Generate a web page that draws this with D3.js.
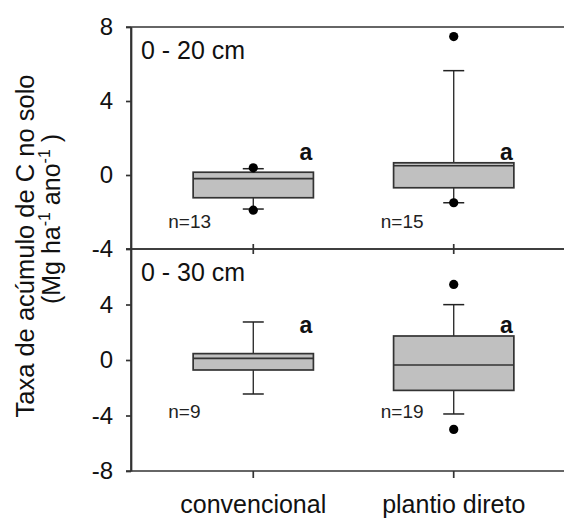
<!DOCTYPE html>
<html>
<head>
<meta charset="utf-8">
<script src="https://cdnjs.cloudflare.com/ajax/libs/d3/7.8.5/d3.min.js"></script>
<style>
  body { margin: 0; background: #fff; }
  svg text { font-family: "Liberation Sans", Arial, sans-serif; fill: #111; }
  .axis path, .axis line, .frame { stroke: #333; stroke-width: 1.7; fill: none; }
</style>
</head>
<body>
<svg id="chart" width="564" height="519"></svg>
<script>
// categories and depth panels
var categories = ['convencional', 'plantio direto'];
var depths = ['0 - 20 cm', '0 - 30 cm'];

// 0 - 20 cm
var q1_20 = [-1.23, -0.69];
var median_20 = [-0.2, 0.5];
var q3_20 = [0.15, 0.66];
var whiskLo_20 = [-1.84, -1.5];
var whiskHi_20 = [0.34, 5.64];
var outliers_20 = [[-1.9, 0.39], [-1.5, 7.48]];
var n_20 = [13, 15];
var letters_20 = ['a', 'a'];

// 0 - 30 cm
var q1_30 = [-0.72, -2.19];
var median_30 = [0.12, -0.36];
var q3_30 = [0.46, 1.73];
var whiskLo_30 = [-2.45, -3.89];
var whiskHi_30 = [2.74, 3.99];
var outliers_30 = [[], [5.45, -5.0]];
var n_30 = [9, 19];
var letters_30 = ['a', 'a'];

// tick labels
var ticks_20 = [-4, 0, 4, 8];
var ticks_30 = [-8, -4, 0, 4];

var svg = d3.select('#chart'),
    W = 564,
    left = 131;

var x = d3.scaleBand()
    .domain(categories)
    .range([left, 576])
    .paddingInner(0.4)
    .paddingOuter(0.31);

var panels = [
  { label: depths[0], domain: [-4, 8], range: [249, 27], ticks: ticks_20,
    q1: q1_20, med: median_20, q3: q3_20, lo: whiskLo_20, hi: whiskHi_20,
    out: outliers_20, n: n_20, letters: letters_20, nAt: -2.86, letterAt: 0.81,
    nShift: [-85, -73], bottomTicks: 'cross' },
  { label: depths[1], domain: [-8, 8], range: [471, 249], ticks: ticks_30,
    q1: q1_30, med: median_30, q3: q3_30, lo: whiskLo_30, hi: whiskHi_30,
    out: outliers_30, n: n_30, letters: letters_30, nAt: -4.18, letterAt: 1.95,
    nShift: [-85, -73], bottomTicks: 'down' }
];

panels.forEach(function(p) {
  var y = d3.scaleLinear().domain(p.domain).range(p.range);
  var g = svg.append('g');

  // horizontal frame lines (top / bottom of panel)
  p.domain.forEach(function(v) {
    g.append('line').attr('class', 'frame')
      .attr('x1', left - 5).attr('x2', W)
      .attr('y1', y(v)).attr('y2', y(v));
  });

  var ax = g.append('g').attr('class', 'axis')
      .attr('transform', 'translate(' + left + ',0)')
      .call(d3.axisLeft(y).tickValues(p.ticks).tickSize(5).tickSizeOuter(0).tickPadding(13)
        .tickFormat(function(d) { return String(d); }));
  ax.selectAll('text').style('font-size', '24px');

  // category ticks on the panel bottom
  categories.forEach(function(c) {
    var cx = x(c) + x.bandwidth() / 2,
        yb = y(p.domain[0]);
    g.append('line').attr('class', 'frame')
      .attr('x1', cx).attr('x2', cx)
      .attr('y1', p.bottomTicks === 'cross' ? yb - 5 : yb)
      .attr('y2', p.bottomTicks === 'cross' ? yb + 5 : yb + 7);
  });

  g.append('text')
    .attr('x', 141).attr('y', y(p.domain[1]) + 32)
    .style('font-size', '25px')
    .text(p.label);

  categories.forEach(function(c, i) {
    var bx = x(c), bw = x.bandwidth(), cx = bx + bw / 2, cap = 10.5;

    // whiskers
    g.append('line').attr('x1', cx).attr('x2', cx)
      .attr('y1', y(p.q3[i])).attr('y2', y(p.hi[i]))
      .attr('stroke', '#222').attr('stroke-width', 1.3);
    g.append('line').attr('x1', cx).attr('x2', cx)
      .attr('y1', y(p.q1[i])).attr('y2', y(p.lo[i]))
      .attr('stroke', '#222').attr('stroke-width', 1.3);
    [p.hi[i], p.lo[i]].forEach(function(v) {
      g.append('line').attr('x1', cx - cap).attr('x2', cx + cap)
        .attr('y1', y(v)).attr('y2', y(v))
        .attr('stroke', '#222').attr('stroke-width', 1.5);
    });

    // box
    g.append('rect')
      .attr('x', bx).attr('width', bw)
      .attr('y', y(p.q3[i])).attr('height', y(p.q1[i]) - y(p.q3[i]))
      .attr('fill', '#c0c0c0').attr('stroke', '#333').attr('stroke-width', 1.7);
    g.append('line')
      .attr('x1', bx).attr('x2', bx + bw)
      .attr('y1', y(p.med[i])).attr('y2', y(p.med[i]))
      .attr('stroke', '#333').attr('stroke-width', 1.7);

    // outliers
    g.selectAll(null).data(p.out[i]).enter().append('circle')
      .attr('cx', cx).attr('cy', function(d) { return y(d); })
      .attr('r', 4.6).attr('fill', '#000');

    // annotations
    g.append('text')
      .attr('x', cx + p.nShift[i]).attr('y', y(p.nAt))
      .style('font-size', '19px').style('fill', '#222')
      .text('n=' + p.n[i]);
    g.append('text')
      .attr('x', bx + bw - 1).attr('y', y(p.letterAt))
      .attr('text-anchor', 'end')
      .style('font-size', '23px').style('font-weight', 'bold')
      .text(p.letters[i]);
  });
});

// left axis line over both panels
svg.append('line').attr('class', 'frame')
  .attr('x1', left).attr('x2', left).attr('y1', 27).attr('y2', 471);

// category labels
svg.selectAll('.cat').data(categories).enter().append('text')
  .attr('class', 'cat')
  .attr('x', function(d) { return x(d) + x.bandwidth() / 2; })
  .attr('y', 513)
  .attr('text-anchor', 'middle')
  .style('font-size', '25px')
  .text(function(d) { return d; });

// y title
svg.append('text')
  .attr('transform', 'translate(34,246) rotate(-90)')
  .attr('text-anchor', 'middle')
  .style('font-size', '25.5px')
  .text('Taxa de acúmulo de C no solo');

var t2 = svg.append('text')
  .attr('transform', 'translate(60,219) rotate(-90)')
  .attr('text-anchor', 'middle')
  .style('font-size', '25px');
t2.append('tspan').text('(Mg ha');
t2.append('tspan').attr('dy', -10).style('font-size', '16px').text('-1');
t2.append('tspan').attr('dy', 10).text('  ano');
t2.append('tspan').attr('dy', -10).style('font-size', '16px').text('-1');
t2.append('tspan').attr('dy', 10).text(' )');
</script>
</body>
</html>
